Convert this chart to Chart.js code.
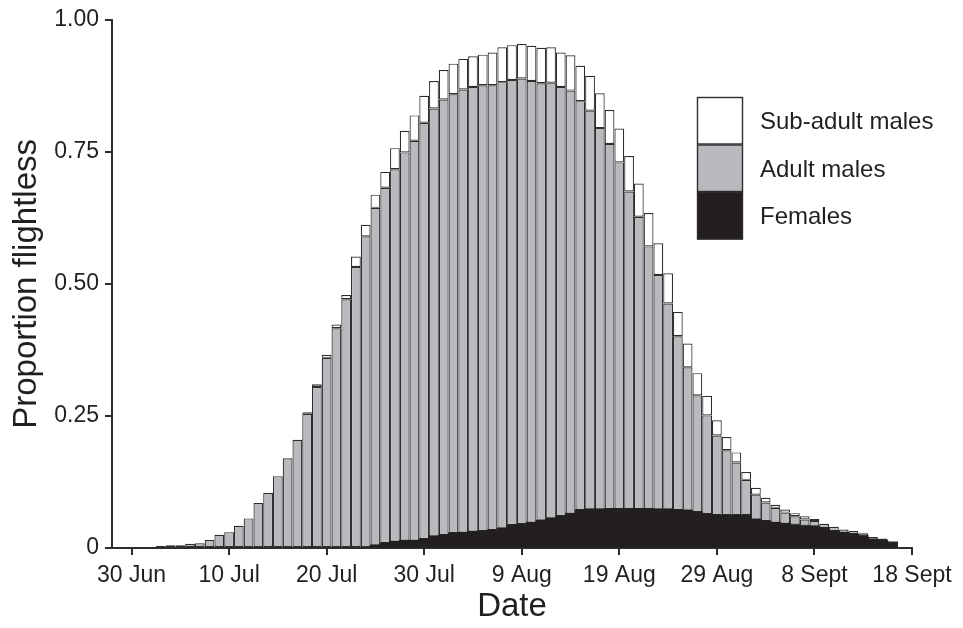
<!DOCTYPE html>
<html>
<head>
<meta charset="utf-8">
<script src="https://cdn.jsdelivr.net/npm/chart.js@4/dist/chart.umd.min.js"></script>
<style>
  html, body { margin: 0; padding: 0; background: #ffffff; }
  #wrap { width: 963px; height: 628px; }
</style>
</head>
<body>
<div id="wrap"><canvas id="chart" width="963" height="628"></canvas></div>
<script>
// Day number counted from 30 June (0 = 30 Jun, 78 = 16 Sept)
const days = [
  0, 1, 2, 3, 4, 5, 6, 7, 8, 9,
  10, 11, 12, 13, 14, 15, 16, 17, 18, 19,
  20, 21, 22, 23, 24, 25, 26, 27, 28, 29,
  30, 31, 32, 33, 34, 35, 36, 37, 38, 39,
  40, 41, 42, 43, 44, 45, 46, 47, 48, 49,
  50, 51, 52, 53, 54, 55, 56, 57, 58, 59,
  60, 61, 62, 63, 64, 65, 66, 67, 68, 69,
  70, 71, 72, 73, 74, 75, 76, 77, 78
];

// Proportion of the population flightless on each day, by group
const females = [
  0, 0, 0, 0, 0, 0, 0, 0, 0, 0,
  0, 0, 0, 0, 0, 0, 0, 0, 0, 0,
  0, 0, 0, 0, 0, 0.005, 0.009, 0.012, 0.014, 0.014,
  0.017, 0.022, 0.024, 0.028, 0.029, 0.031, 0.032, 0.034, 0.037, 0.043,
  0.045, 0.048, 0.052, 0.056, 0.060, 0.065, 0.072, 0.073, 0.073, 0.074,
  0.074, 0.074, 0.074, 0.074, 0.073, 0.073, 0.072, 0.071, 0.068, 0.064,
  0.062, 0.062, 0.062, 0.062, 0.054, 0.051, 0.048, 0.046, 0.044, 0.042,
  0.041, 0.038, 0.032, 0.029, 0.026, 0.023, 0.016, 0.014, 0.011
];

const adultMales = [
  0, 0, 0.002, 0.004, 0.005, 0.005, 0.008, 0.009, 0.015, 0.025,
  0.030, 0.042, 0.056, 0.085, 0.104, 0.136, 0.170, 0.205, 0.254, 0.305,
  0.360, 0.416, 0.471, 0.532, 0.590, 0.639, 0.673, 0.705, 0.735, 0.757,
  0.788, 0.810, 0.825, 0.831, 0.839, 0.842, 0.844, 0.842, 0.845, 0.843,
  0.844, 0.836, 0.828, 0.825, 0.813, 0.801, 0.774, 0.755, 0.722, 0.691,
  0.656, 0.601, 0.553, 0.497, 0.444, 0.390, 0.329, 0.271, 0.221, 0.187,
  0.151, 0.123, 0.100, 0.067, 0.047, 0.035, 0.028, 0.021, 0.016, 0.012,
  0.010, 0.008, 0.008, 0.006, 0.006, 0.005, 0.005, 0.004, 0
];

const subAdultMales = [
  0, 0, 0, 0, 0, 0, 0, 0, 0, 0,
  0, 0, 0, 0, 0, 0, 0, 0, 0.003, 0.005,
  0.006, 0.007, 0.008, 0.020, 0.022, 0.025, 0.030, 0.040, 0.041, 0.048,
  0.051, 0.052, 0.056, 0.058, 0.058, 0.058, 0.058, 0.062, 0.066, 0.066,
  0.065, 0.067, 0.067, 0.067, 0.065, 0.067, 0.067, 0.066, 0.066, 0.064,
  0.064, 0.067, 0.063, 0.063, 0.060, 0.057, 0.046, 0.045, 0.042, 0.037,
  0.029, 0.025, 0.019, 0.015, 0.013, 0.009, 0.006, 0.006, 0.006, 0.006,
  0.004, 0, 0, 0, 0, 0, 0, 0, 0
];

// Axis ticks
const xTickDays = [0, 10, 20, 30, 40, 50, 60, 70, 80];
const xTickLabels = ['30 Jun', '10 Jul', '20 Jul', '30 Jul', '9 Aug', '19 Aug', '29 Aug', '8 Sept', '18 Sept'];
const yTickValues = [0, 0.25, 0.5, 0.75, 1];
const yTickLabels = ['0', '0.25', '0.50', '0.75', '1.00'];

const INK = '#231f20';
const EDGE = '#2d2d2d';
const FONT = "'Liberation Sans', Arial, Helvetica, sans-serif";

// empty days carry no bar segment at all
const seg = arr => arr.map(v => (v > 0 ? v : null));

const barStyle = {
  borderColor: EDGE,
  borderWidth: 1.2,
  borderSkipped: false,
  categoryPercentage: 1,
  barPercentage: 1,
  inflateAmount: 0
};

// Stacked legend boxes drawn as one column at the upper right of the plot
const stackLegend = {
  id: 'stackLegend',
  afterDraw(chart) {
    const ctx = chart.ctx;
    const items = chart.data.datasets.slice().reverse();
    const x = 697, y0 = 97, w = 46, h = 47.5;
    ctx.save();
    items.forEach((ds, i) => {
      const y = y0 + i * h;
      ctx.fillStyle = ds.backgroundColor;
      ctx.fillRect(x, y, w, h);
      ctx.lineWidth = 1.4;
      ctx.strokeStyle = EDGE;
      ctx.strokeRect(x + 0.5, y + 0.5, w - 1, h - 1);
      ctx.fillStyle = INK;
      ctx.font = '24px ' + FONT;
      ctx.textAlign = 'left';
      ctx.textBaseline = 'middle';
      ctx.fillText(ds.label, x + 63, y + h / 2 + 2);
    });
    ctx.restore();
  }
};

new Chart(document.getElementById('chart'), {
  type: 'bar',
  data: {
    labels: days,
    datasets: [
      Object.assign({}, barStyle, { label: 'Females', data: seg(females), backgroundColor: INK, borderColor: INK, borderWidth: 0, inflateAmount: 0.6 }),
      Object.assign({}, barStyle, { label: 'Adult males', data: seg(adultMales), backgroundColor: '#b9babd' }),
      Object.assign({}, barStyle, { label: 'Sub-adult males', data: seg(subAdultMales), backgroundColor: '#ffffff' })
    ]
  },
  options: {
    responsive: false,
    animation: false,
    layout: { padding: { left: 0, right: 51, top: 14, bottom: 0 } },
    plugins: {
      legend: { display: false },
      tooltip: { enabled: false }
    },
    scales: {
      x: {
        type: 'linear',
        stacked: true,
        min: -2,
        max: 80,
        offset: false,
        afterBuildTicks(scale) { scale.ticks = xTickDays.map(v => ({ value: v })); },
        afterFit(scale) { scale.height = 80; },
        ticks: {
          autoSkip: false,
          maxRotation: 0,
          padding: 7,
          color: INK,
          font: { family: FONT, size: 23 },
          callback: v => xTickLabels[xTickDays.indexOf(v)]
        },
        grid: { display: true, offset: false, drawOnChartArea: false, drawTicks: true, tickLength: 7, color: EDGE, lineWidth: 2 },
        border: { display: true, color: EDGE, width: 2 },
        title: {
          display: true,
          text: 'Date',
          color: INK,
          font: { family: FONT, size: 33 },
          padding: { top: 0, bottom: 1 }
        }
      },
      y: {
        stacked: true,
        min: 0,
        max: 1,
        afterBuildTicks(scale) { scale.ticks = yTickValues.map(v => ({ value: v })); },
        afterFit(scale) { scale.width = 112; },
        ticks: {
          padding: 6,
          color: INK,
          font: { family: FONT, size: 23 },
          callback: v => yTickLabels[yTickValues.indexOf(v)]
        },
        grid: { display: true, offset: false, drawOnChartArea: false, drawTicks: true, tickLength: 7, color: EDGE, lineWidth: 2 },
        border: { display: true, color: EDGE, width: 2 },
        title: {
          display: true,
          text: 'Proportion flightless',
          color: INK,
          font: { family: FONT, size: 33 },
          padding: { top: 7, bottom: 0 }
        }
      }
    }
  },
  plugins: [stackLegend]
});
</script>
</body>
</html>
